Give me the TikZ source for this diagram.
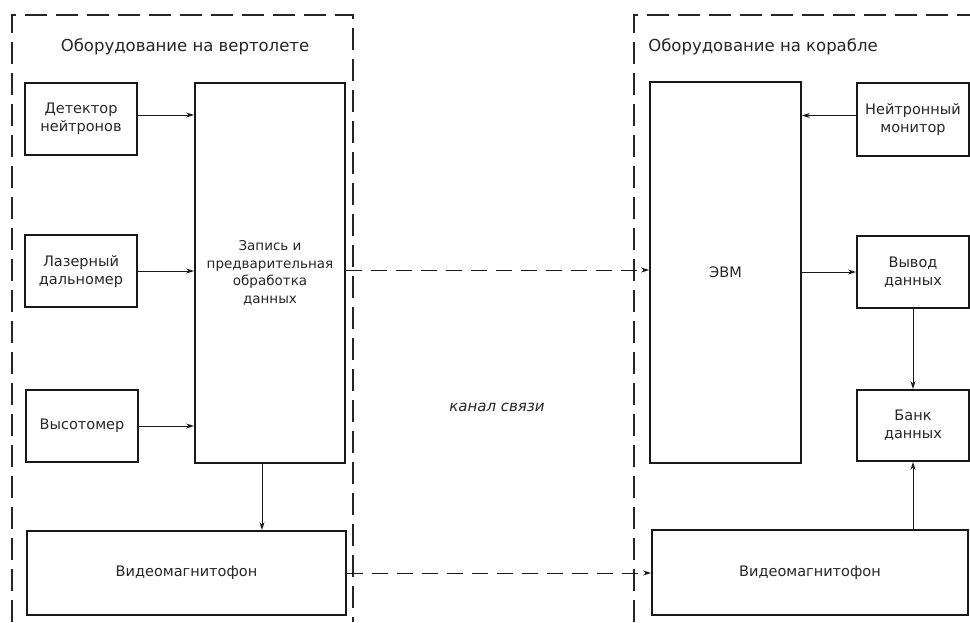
\documentclass[tikz,border=0pt]{standalone}
\usepackage{fontspec}
\setmainfont{DejaVu Sans}
\usetikzlibrary{arrows.meta,calc}
\tikzset{
  blk/.style={draw=black!90, line width=1.9pt, inner sep=0pt, align=center,
    font=\fontsize{14.5}{18}\selectfont, text=black!85},
  ttl/.style={font=\fontsize{16.5}{20}\selectfont, text=black!85},
  conn/.style={draw=black!90, line width=1pt, -{Stealth[length=8pt,width=5pt]}},
  link/.style={conn, dash pattern=on 16pt off 9pt},
  border/.style={draw=black!85, line width=1.3pt, dash pattern=on 22pt off 9pt}
}
\begin{document}
\begin{tikzpicture}[x=1pt,y=-1pt]
\useasboundingbox (0,0) rectangle (970,622);
\fill[white] (0,0) rectangle (970,622);

% equipment boundaries
\draw[border] (12,622) -- (12,15) -- (353,15) -- (353,622);
\draw[border] (634,622) -- (634,15) -- (970,15);

\node[ttl] (tl) at (185,47) {Оборудование на вертолете};
\node[ttl] (tr) at (763,47) {Оборудование на корабле};

% helicopter side
\node[blk, minimum width=112pt, minimum height=72pt] (det) at (81,119) {Детектор\\нейтронов};
\node[blk, minimum width=112pt, minimum height=72pt] (las) at (81,271) {Лазерный\\дальномер};
\node[blk, minimum width=112pt, minimum height=72pt] (vys) at (82,426) {Высотомер};
\node[blk, font=\fontsize{13.5}{17.5}\selectfont, minimum width=150pt, minimum height=380pt] (zap) at (270,273) {Запись и\\предварительная\\обработка\\данных};
\node[blk, minimum width=319pt, minimum height=84pt] (vidL) at (186.5,573) {Видеомагнитофон};

% ship side
\node[blk, minimum width=151pt, minimum height=381pt] (evm) at (725.5,272.5) {ЭВМ};
\node[blk, minimum width=112pt, minimum height=73pt] (neu) at (913,119.5) {Нейтронный\\монитор};
\node[blk, minimum width=112pt, minimum height=72pt] (vyv) at (913,272) {Вывод\\данных};
\node[blk, minimum width=112pt, minimum height=71pt] (bank) at (913,425.5) {Банк\\данных};
\node[blk, minimum width=316pt, minimum height=85pt] (vidR) at (810,572.5) {Видеомагнитофон};

\node[font=\itshape\fontsize{15}{17}\selectfont, text=black!85] (kan) at (497,407) {канал связи};

% connectors
\draw[conn] ([yshift=4pt]det.east) -- ([yshift=4pt]det.east -| zap.west);
\draw[conn] (las.east) -- (las.east -| zap.west);
\draw[conn] (vys.east) -- (vys.east -| zap.west);
\draw[conn] ([xshift=-8pt]zap.south) -- ([xshift=-8pt]zap.south |- vidL.north);
\draw[link] ([yshift=3pt]zap.east) -- ([yshift=3pt]zap.east -| evm.west);
\draw[link] (vidL.east) -- (vidL.east -| vidR.west);
\draw[conn] ([yshift=4pt]neu.west) -- ([yshift=4pt]neu.west -| evm.east);
\draw[conn] (vyv.west -| evm.east) -- (vyv.west);
\draw[conn] (vyv.south) -- (bank.north);
\draw[conn] (vidR.north -| bank.south) -- (bank.south);
\end{tikzpicture}
\end{document}
